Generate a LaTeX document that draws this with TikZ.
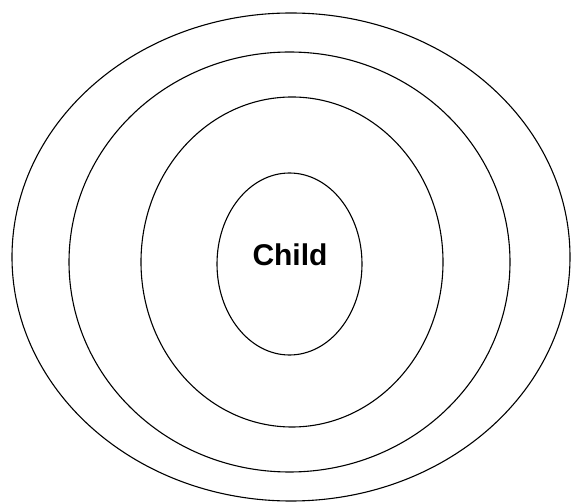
\documentclass[tikz,border=0pt]{standalone}
\usepackage{fontspec}
\setmainfont{Liberation Sans}
\usetikzlibrary{shapes.geometric}
\usetikzlibrary{positioning}
\tikzstyle{ring}=[ellipse,draw=black,line width=1.1pt,inner sep=0pt,outer sep=0pt]
\tikzstyle{lbl}=[font=\fontsize{30}{34}\selectfont\bfseries,inner sep=0pt]

\begin{document}
\begin{tikzpicture}[x=1pt,y=-1pt]
        \useasboundingbox (0,0) rectangle (571,502);
        \node[ring,minimum width=558pt,minimum height=488pt] (ring3) at (291,257) {};
        \node[ring,minimum width=441pt,minimum height=420pt] (ring2) at (289.5,262) {};
        \node[ring,minimum width=302pt,minimum height=330pt] (ring1) at (292,262) {};
        \node[ring,minimum width=145pt,minimum height=182pt] (child) at (289.5,264) {};
        \node[lbl] (name) at (290,255) {Child};
      \end{tikzpicture}
\end{document}
